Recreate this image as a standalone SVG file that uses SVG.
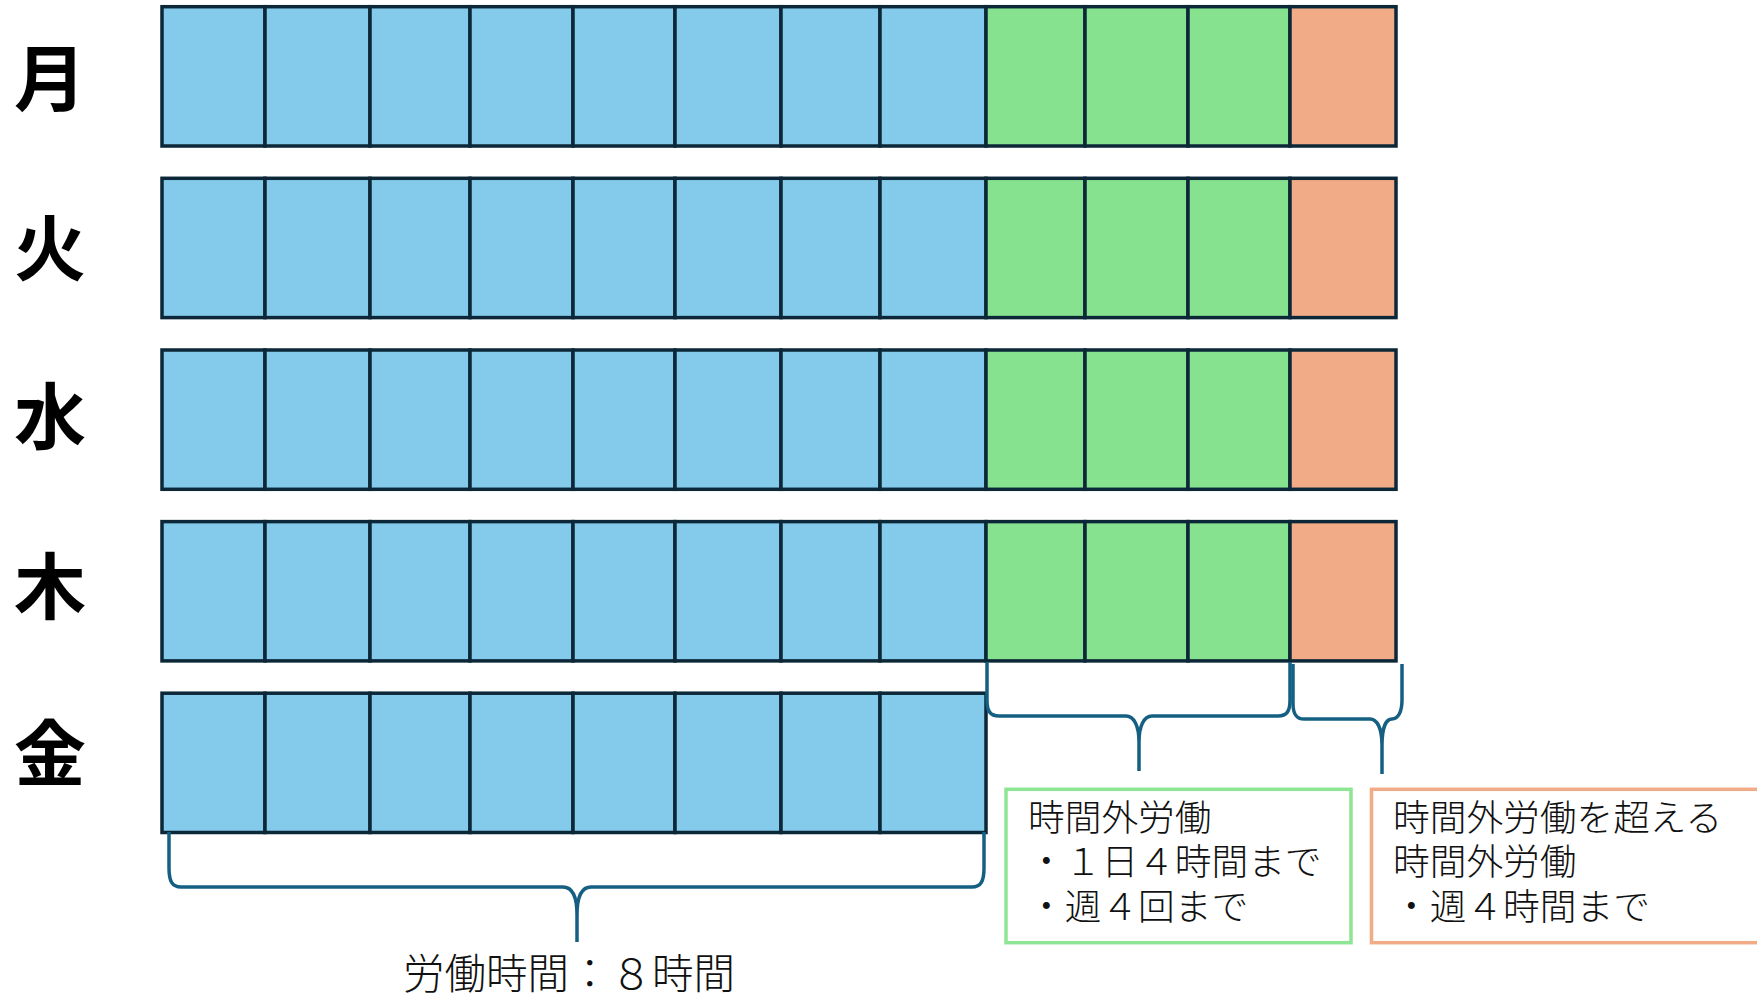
<svg xmlns="http://www.w3.org/2000/svg" width="1757" height="994" viewBox="0 0 1757 994">
<style>
.c{stroke:#0c2737;stroke-width:3.5}
.b{fill:#83caeb}
.g{fill:#86e28e}
.o{fill:#f1ab86}
.day{font-family:"Noto Sans CJK JP","Noto Sans",sans-serif;font-weight:700;font-size:72px;fill:#000;text-anchor:middle}
.t{font-family:"Noto Sans CJK JP","Noto Sans",sans-serif;font-weight:300;font-size:36.7px;fill:#111}
.brace{fill:none;stroke:#156082;stroke-width:3.5;stroke-linecap:butt;stroke-linejoin:round}
</style>
<rect width="1757" height="994" fill="#fff"/>
<defs>
<g id="blue8">
<rect class="c b" x="162" y="0" width="103" height="139.3"/>
<rect class="c b" x="265" y="0" width="105" height="139.3"/>
<rect class="c b" x="370" y="0" width="100" height="139.3"/>
<rect class="c b" x="470" y="0" width="103" height="139.3"/>
<rect class="c b" x="573" y="0" width="102" height="139.3"/>
<rect class="c b" x="675" y="0" width="106" height="139.3"/>
<rect class="c b" x="781" y="0" width="99" height="139.3"/>
<rect class="c b" x="880" y="0" width="106" height="139.3"/>
</g>
<g id="extra">
<rect class="c g" x="986" y="0" width="99" height="139.3"/>
<rect class="c g" x="1085" y="0" width="103" height="139.3"/>
<rect class="c g" x="1188" y="0" width="102" height="139.3"/>
<rect class="c o" x="1290" y="0" width="106" height="139.3"/>
</g>
</defs>
<g id="row-mon">
<use href="#blue8" y="6.7"/><use href="#extra" y="6.7"/>
<text class="day" x="50" y="105">月</text>
</g>
<g id="row-tue">
<use href="#blue8" y="178.3"/><use href="#extra" y="178.3"/>
<text class="day" x="50" y="275">火</text>
</g>
<g id="row-wed">
<use href="#blue8" y="350"/><use href="#extra" y="350"/>
<text class="day" x="50" y="443">水</text>
</g>
<g id="row-thu">
<use href="#blue8" y="521.6"/><use href="#extra" y="521.6"/>
<text class="day" x="50" y="613">木</text>
</g>
<g id="row-fri">
<use href="#blue8" y="693.2"/>
<text class="day" x="50" y="780">金</text>
</g>
<g id="connectors">
<path class="brace" d="M169,832 L169,868 C169,881 172,887 181,887 L563,887 C572,887 577,897 577,915 L577,942 M577,915 C577,897 582,887 591,887 L972,887 C981,887 984,881 984,868 L984,832"/>
<path class="brace" d="M987,662 L987,700 C987,711 990,716 999,716 L1126,716 C1134,716 1139,726 1139,742 L1139,771 M1139,742 C1139,726 1144,716 1152,716 L1278,716 C1287,716 1290,711 1290,700 L1290,662"/>
<path class="brace" d="M1293,664 L1293,703 C1293,714 1296,719 1304,719 L1370,719 C1377,719 1382,728 1382,745 L1382,774 M1382,745 C1382,728 1386,719 1392,719 C1398,719 1402,712 1402,700 L1402,664"/>
</g>
<g id="box-overtime">
<rect x="1006" y="789.3" width="345" height="153.4" fill="#fff" stroke="#8ee594" stroke-width="3.5"/>
<text class="t" x="1028" y="830.5">時間外労働</text>
<text class="t" x="1028" y="875">・１日４時間まで</text>
<text class="t" x="1028" y="920">・週４回まで</text>
</g>
<g id="box-excess">
<rect x="1371.5" y="789.3" width="420" height="153.4" fill="#fff" stroke="#f1ab86" stroke-width="3.5"/>
<text class="t" x="1393" y="830.5">時間外労働を超える</text>
<text class="t" x="1393" y="875">時間外労働</text>
<text class="t" x="1393" y="920">・週４時間まで</text>
</g>
<g id="label-work">
<text class="t" x="403" y="988.5" style="font-size:41.5px">労働時間：８時間</text>
</g>
</svg>
